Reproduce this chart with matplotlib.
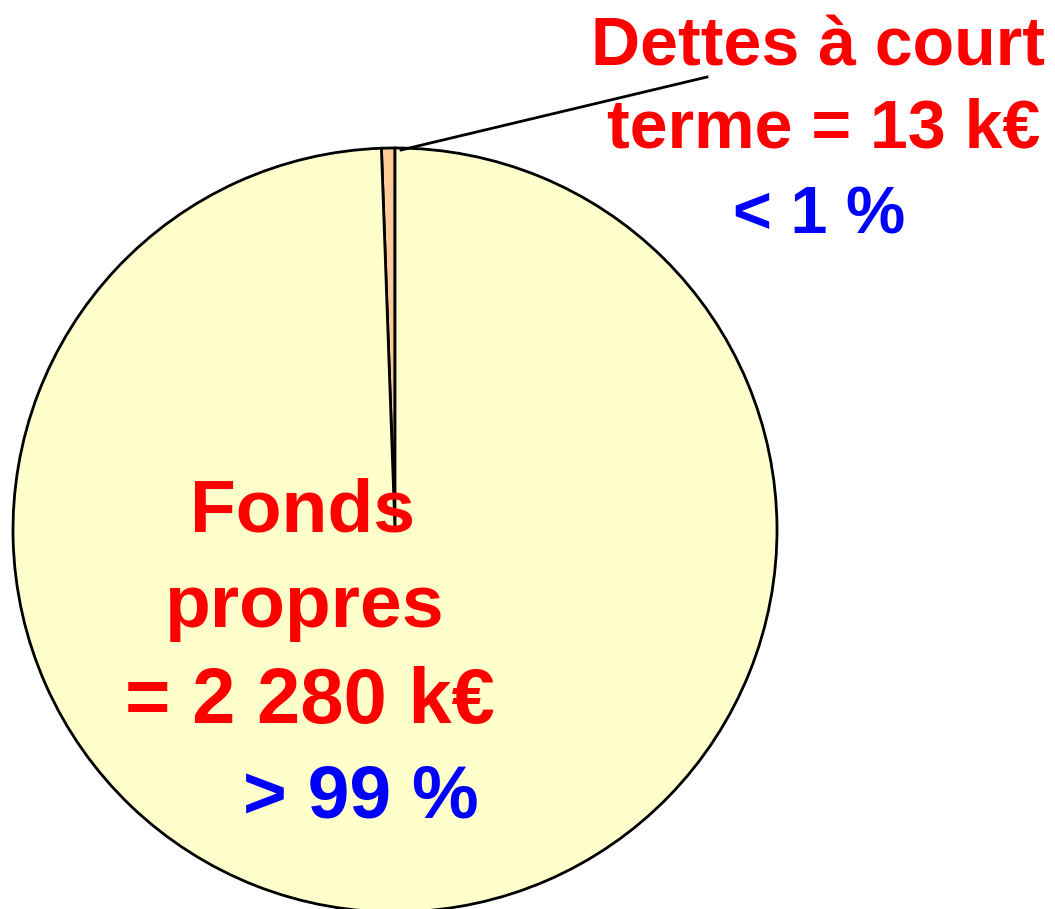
import matplotlib
matplotlib.use("Agg")
import matplotlib.pyplot as plt

# Données (k€)
categories = ["Dettes à court terme", "Fonds propres"]
values = [13, 2280]
colors = ["#FFCC99", "#FFFFCC"]

label_dettes = ["Dettes à court", "terme = 13 k€"]
pct_dettes = "< 1 %"
label_fonds = ["Fonds", "propres", "= 2 280 k€"]
pct_fonds = "> 99 %"

W, H = 1055, 909
fig = plt.figure(figsize=(W / 100, H / 100), dpi=100)
ax = fig.add_axes([0, 0, 1, 1])

# Camembert (coordonnées en pixels, y vers le haut)
cx, cy, r = 395, H - 530, 382
ax.pie(values, colors=colors, startangle=90, counterclock=True,
       center=(cx, cy), radius=r,
       wedgeprops=dict(edgecolor="black", linewidth=2))
ax.set_xlim(0, W)
ax.set_ylim(0, H)
ax.set_aspect("equal")
ax.axis("off")

# Trait de rappel
ax.plot([401, 707], [H - 150, H - 77], color="black", lw=2)

font = dict(family="Liberation Sans", weight="bold", ha="center", va="baseline")

# Dettes à court terme
ax.text(818, H - 65, label_dettes[0], color="red", fontsize=49, **font)
ax.text(824, H - 148, label_dettes[1], color="red", fontsize=49, **font)
ax.text(819, H - 233, pct_dettes, color="blue", fontsize=48, **font)

# Fonds propres
ax.text(303, H - 532, label_fonds[0], color="red", fontsize=54, **font)
ax.text(304, H - 627, label_fonds[1], color="red", fontsize=54, **font)
ax.text(310, H - 723, label_fonds[2], color="red", fontsize=56, **font)
ax.text(361, H - 818, pct_fonds, color="blue", fontsize=54, **font)

fig.savefig("out.png", dpi=100)
